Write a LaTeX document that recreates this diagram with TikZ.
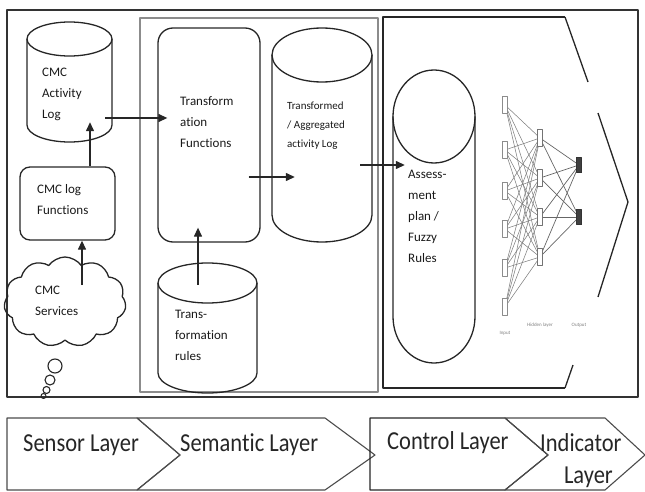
\documentclass[tikz,border=0pt]{standalone}
\usepackage{fontspec}
\usepackage{graphicx}
\setmainfont{Carlito}[Ligatures=NoCommon]
\usetikzlibrary{arrows.meta,shapes.symbols,calc}
\begin{document}
\begin{tikzpicture}[x=1pt,y=-1pt,line join=round,
  ln/.style={draw=black!85,line width=1.3pt},
  arr/.style={-{Triangle[length=9pt,width=8pt]},line width=1.3pt,draw=black!85,fill=black!85},
  txt/.style={font=\fontsize{13}{21}\selectfont,align=left,inner sep=0pt,anchor=north west,text=black!90},
  smalltxt/.style={font=\fontsize{11}{19}\selectfont,align=left,inner sep=0pt,anchor=north west,text=black!90},
  ghost/.style={draw=none,inner sep=0pt},
  inp/.style={draw=black!45,line width=0.6pt,minimum width=5pt,minimum height=17pt,inner sep=0pt,fill=white},
  hid/.style={draw=black!55,line width=0.7pt,minimum width=5pt,minimum height=17pt,inner sep=0pt,fill=white},
  outn/.style={draw=black!80,fill=black!75,minimum width=5pt,minimum height=15pt,inner sep=0pt},
  nn/.style={draw=black!50,line width=0.55pt},
  nnlbl/.style={font=\fontsize{5}{6}\selectfont,text=black!50,inner sep=0pt},
  layer/.style={draw=black!70,line width=1.1pt},
  laytxt/.style={font=\fontsize{22.5}{26}\selectfont,inner sep=0pt,text=black!85}]
\useasboundingbox (0,0) rectangle (645,492);
% frames
\draw[draw=black!80,line width=1.6pt] (7,10) rectangle (638,397);
\draw[draw=black!45,line width=1.2pt] (140,18) rectangle (378,392);
\draw[ln] (565,17) -- (383,17) -- (383,388) -- (565,388);
\draw[ln] (565,17) -- (588,82);
\draw[ln] (598,113) -- (628,202) -- (598,297);
\draw[ln] (573,365) -- (565,388);
% CMC Activity Log cylinder
\node[ghost,minimum width=85pt,minimum height=120pt] (cal) at (69.5,82) {};
\draw[ln] (27,39) -- (27,125) arc[start angle=180,end angle=360,x radius=42.5,y radius=-17] -- (112,39);
\draw[ln] (69.5,39) ellipse[x radius=42.5,y radius=17];
\node[txt] (calt) at (42,68) {CMC\\Activity\\Log};
% CMC log Functions
\node[ln,rounded corners=10pt,minimum width=95pt,minimum height=73pt,inner sep=0pt] (lf) at (67.5,203.5) {};
\node[txt] (lft) at (37,184) {CMC log\\Functions};
% cloud
\node[cloud,ln,cloud puffs=11,cloud puff arc=110,aspect=1.35,minimum width=122pt,minimum height=90pt,inner sep=0pt] (cs) at (65,302) {};
\node[txt] (cst) at (35,286) {CMC\\Services};
\draw[ln,line width=1.1pt] (55,366) circle[radius=7];
\draw[ln,line width=1.1pt] (50,380) circle[radius=5];
\draw[ln,line width=1.1pt] (46.5,390) circle[radius=3.5];
\draw[ln,line width=1pt] (43.5,396) circle[radius=2.5];
% Transformation Functions
\node[ln,rounded corners=15pt,minimum width=102pt,minimum height=214pt,inner sep=0pt] (tf) at (209,135) {};
\node[txt] (tft) at (180,96) {Transform\\ation\\Functions};
% Transformed / Aggregated activity Log
\node[ghost,minimum width=100pt,minimum height=214pt] (tal) at (322,135) {};
\draw[ln] (272,55) -- (272,215) arc[start angle=180,end angle=360,x radius=50,y radius=-27] -- (372,55);
\draw[ln] (322,55) ellipse[x radius=50,y radius=27];
\node[smalltxt] (talt) at (287,102) {Transformed\\/ Aggregated\\activity Log};
% Transformation rules
\node[ghost,minimum width=99pt,minimum height=130pt] (tr) at (207.5,328) {};
\draw[ln] (158,283) -- (158,373) arc[start angle=180,end angle=360,x radius=49.5,y radius=-20] -- (257,283);
\draw[ln] (207.5,283) ellipse[x radius=49.5,y radius=20];
\node[txt] (trt) at (175,310) {Trans-\\formation\\rules};
% Assessment plan
\node[ghost,minimum width=82pt,minimum height=293pt] (ap) at (434,216.5) {};
\draw[ln] (393,116.5) -- (393,316.5) arc[start angle=180,end angle=360,x radius=41,y radius=-46.5] -- (475,116.5);
\draw[ln] (434,116.5) ellipse[x radius=41,y radius=46.5];
\node[txt] (apt) at (408,170) {Assess-\\ment\\plan /\\Fuzzy\\Rules};
% neural network
\foreach \i/\yy in {1/105,2/150,3/191,4/229,5/268,6/307} \coordinate (ic\i) at (505,\yy);
\foreach \j/\yy in {1/138,2/178,3/217,4/257} \coordinate (hc\j) at (540,\yy);
\coordinate (oc1) at (579,165);
\coordinate (oc2) at (579,217);
\foreach \i in {1,...,6} \foreach \j in {1,...,4} \draw[nn] (ic\i) -- (hc\j);
\foreach \j in {1,...,4} \foreach \k in {1,2} \draw[nn,draw=black!60,line width=0.7pt] (hc\j) -- (oc\k);
\foreach \i in {1,...,6} \node[inp] (in\i) at (ic\i) {};
\foreach \j in {1,...,4} \node[hid] (hn\j) at (hc\j) {};
\node[outn] (on1) at (oc1) {};
\node[outn] (on2) at (oc2) {};
\node[nnlbl] (l1) at (505,333) {Input};
\node[nnlbl] (l2) at (540,325) {Hidden layer};
\node[nnlbl] (l3) at (579,325) {Output};
% arrows
\draw[arr] ($(lf.north)+(22.5,0)$) -- ($(cal.south)+(20.5,-20)$);
\draw[arr] ($(cs.center)+(17,-17)$) -- ($(lf.south)+(14.5,0)$);
\draw[arr] ($(cal.east)+(-7,36)$) -- ($(tf.west)+(10,-17)$);
\draw[arr] ($(tf.east)+(-12,42)$) -- ($(tal.west)+(23,42)$);
\draw[arr] ($(tr.north)+(-9.5,22)$) -- ($(tf.south)+(-11,-15)$);
\draw[arr] ($(tal.east)+(-12,30)$) -- ($(ap.west)+(12,-51.5)$);
% bottom layers
\draw[layer] (7,418) -- (137,418) -- (180,455) -- (137,490) -- (7,490) -- cycle;
\draw[layer] (137,418) -- (325,418) -- (375,455) -- (325,490) -- (137,490) -- (180,455) -- cycle;
\draw[layer,draw=black!85] (370,418) -- (505,418) -- (548,455) -- (505,490) -- (370,490) -- cycle;
\draw[layer] (505,418) -- (605,418) -- (645,455) -- (605,490) -- (505,490) -- (548,455) -- cycle;
\node[laytxt,anchor=west] (sl) at (23,445) {\scalebox{1}[1.15]{Sensor Layer}};
\node[laytxt,anchor=west] (sml) at (180,445) {\scalebox{1}[1.15]{Semantic Layer}};
\node[laytxt,anchor=west] (cl) at (387,443) {\scalebox{1}[1.15]{Control Layer}};
\node[laytxt,anchor=west] (il) at (540,443) {\scalebox{1}[1.15]{Indicator}};
\node[laytxt,anchor=east] (il2) at (613,477) {\scalebox{1}[1.15]{Layer}};
\end{tikzpicture}
\end{document}
